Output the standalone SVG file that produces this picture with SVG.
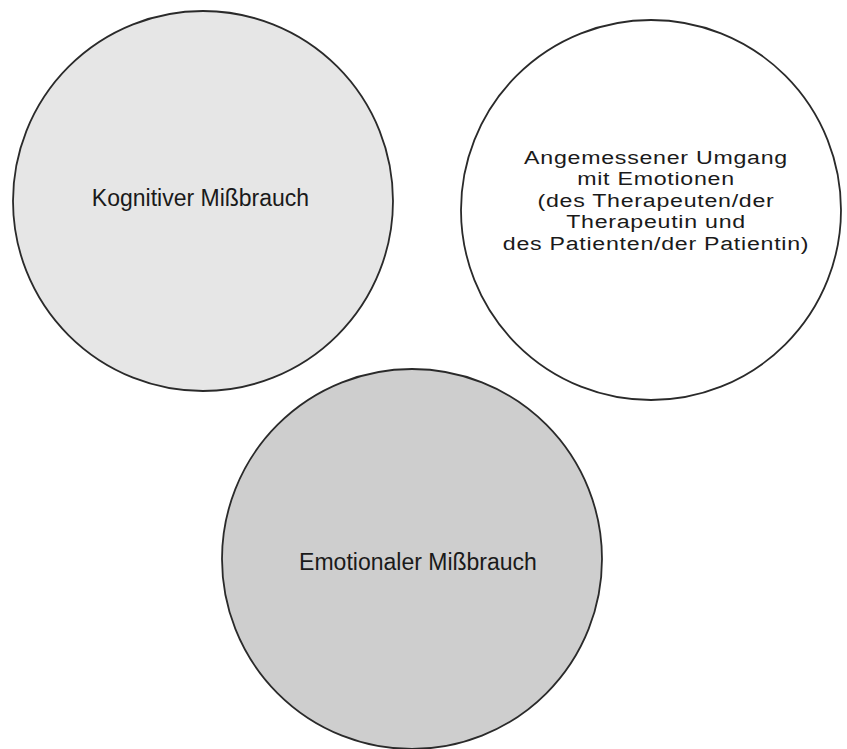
<svg xmlns="http://www.w3.org/2000/svg" width="847" height="749" viewBox="0 0 847 749">
<style>
.c{stroke:#2a2a2a;stroke-width:1.8}
.t{font-family:"Liberation Sans",Arial,Helvetica,sans-serif;fill:#1a1a1a;text-anchor:middle}
.r{font-size:19px;letter-spacing:0.6px}
</style>
<rect width="847" height="749" fill="#fff"/>
<g id="kognitiv">
<circle class="c" cx="203" cy="201" r="190" fill="#e6e6e6"/>
<text class="t" x="200.5" y="206" font-size="23" fill="#333">Kognitiver Mißbrauch</text>
</g>
<g id="angemessen">
<circle class="c" cx="651" cy="210" r="190" fill="#fff"/>
<g transform="translate(656,0) scale(1.22,1)">
<text class="t r" x="0" y="164">Angemessener Umgang</text>
<text class="t r" x="0" y="185.5">mit Emotionen</text>
<text class="t r" x="0" y="207">(des Therapeuten/der</text>
<text class="t r" x="0" y="228.5">Therapeutin und</text>
<text class="t r" x="0" y="250">des Patienten/der Patientin)</text>
</g>
</g>
<g id="emotional">
<circle class="c" cx="412" cy="559" r="190" fill="#cecece"/>
<text class="t" x="418" y="570" font-size="23" fill="#333">Emotionaler Mißbrauch</text>
</g>
<g id="connectors"/>
</svg>
